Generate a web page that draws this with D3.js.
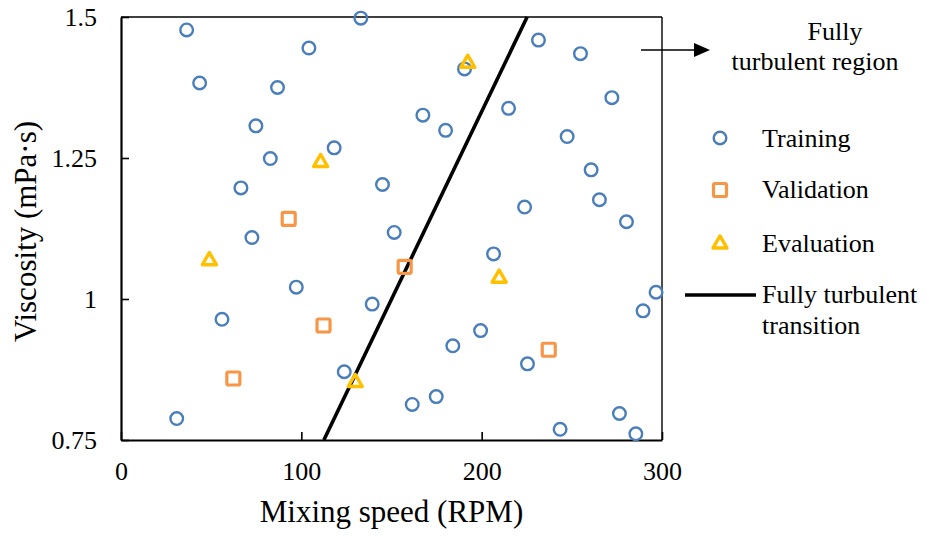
<!DOCTYPE html>
<html>
<head>
<meta charset="utf-8">
<script src="https://cdn.jsdelivr.net/npm/d3@7"></script>
<style>
  html, body { margin: 0; padding: 0; background: #fff; }
  svg { display: block; }
  svg text { font-family: "Liberation Serif", "Times New Roman", Times, serif; fill: #000; }
</style>
</head>
<body>
<div id="chart"></div>
<script>
// Training set: [mixing speed (RPM), viscosity (mPa·s)]
const trainingSpeed = [36.4, 133, 104.2, 43.6, 86.8, 74.8, 118.2, 82.8, 66.5, 145,
  72.6, 151.5, 231.5, 254.8, 190.5, 272.2, 167.4, 214.9, 180, 247.4,
  260.7, 265.3, 280.3, 223.8, 97.2, 56, 139.3, 123.8, 30.9, 206.6,
  296.7, 289.5, 199.4, 184, 225.4, 174.8, 161.5, 243.5, 276.4, 285.5];
const trainingViscosity = [1.477, 1.498, 1.445, 1.383, 1.375, 1.307, 1.268, 1.249, 1.197, 1.203,
  1.109, 1.118, 1.459, 1.435, 1.408, 1.357, 1.326, 1.338, 1.299, 1.288,
  1.229, 1.176, 1.137, 1.163, 1.021, 0.964, 0.991, 0.871, 0.788, 1.080,
  1.012, 0.979, 0.944, 0.917, 0.885, 0.827, 0.813, 0.769, 0.797, 0.761];

// Validation set
const validationSpeed = [93, 112.3, 62.3, 157.3, 237.2];
const validationViscosity = [1.142, 0.953, 0.859, 1.057, 0.910];

// Evaluation set
const evaluationSpeed = [110.7, 192.3, 49, 129.9, 209.7];
const evaluationViscosity = [1.242, 1.418, 1.068, 0.852, 1.037];

// Fully turbulent transition line (two end points)
const transitionSpeed = [112.5, 225.2];
const transitionViscosity = [0.75, 1.5];

// Axis ticks
const xTicks = [0, 100, 200, 300];
const yTicks = [0.75, 1, 1.25, 1.5];
const yTickLabels = ["0.75", "1", "1.25", "1.5"];

const W = 927, H = 536;
const margin = { left: 121, top: 17, right: 265, bottom: 96 };
const iw = W - margin.left - margin.right;
const ih = H - margin.top - margin.bottom;
const serif = "'Liberation Serif', 'Times New Roman', Times, serif";

const svg = d3.select("#chart").append("svg").attr("width", W).attr("height", H)
  .attr("font-family", serif);
const g = svg.append("g").attr("transform", `translate(${margin.left},${margin.top})`);

const x = d3.scaleLinear().domain([0, 300]).range([0, iw]);
const y = d3.scaleLinear().domain([0.75, 1.5]).range([ih, 0]);

// Frame: top and right thin lines
g.append("line").attr("x1", 0).attr("x2", iw).attr("y1", 0).attr("y2", 0)
  .attr("stroke", "#000").attr("stroke-width", 1.4);
g.append("line").attr("x1", iw).attr("x2", iw).attr("y1", 0).attr("y2", ih)
  .attr("stroke", "#000").attr("stroke-width", 1.4);

// Axes with inward ticks
const xAxis = g.append("g").attr("transform", `translate(0,${ih})`)
  .call(d3.axisBottom(x).tickValues(xTicks).tickSizeInner(-8).tickSizeOuter(0)
    .tickFormat(d3.format("d")));
const yAxis = g.append("g")
  .call(d3.axisLeft(y).tickValues(yTicks).tickSizeInner(-8).tickSizeOuter(0)
    .tickFormat((d, i) => yTickLabels[i]));

[xAxis, yAxis].forEach(a => {
  a.attr("font-family", serif).attr("font-size", 26);
  a.select(".domain").attr("stroke", "#000").attr("stroke-width", 2.2);
  a.selectAll(".tick line").attr("stroke", "#000").attr("stroke-width", 1.6);
  a.selectAll(".tick text").attr("fill", "#000")
    .style("font-family", serif).style("font-size", "26px");
});
xAxis.selectAll(".tick text").attr("y", 40).attr("dy", 0);
yAxis.selectAll(".tick text").attr("x", -24).attr("dy", "0.34em");

// Axis titles
svg.append("text")
  .attr("x", margin.left + iw / 2).attr("y", 522)
  .attr("text-anchor", "middle").style("font-size", "31px")
  .text("Mixing speed (RPM)");
svg.append("text")
  .attr("transform", `translate(36,${margin.top + ih / 2 + 3}) rotate(-90)`)
  .attr("text-anchor", "middle").style("font-size", "31px")
  .text("Viscosity (mPa·s)");

// Transition line
const lineGen = d3.line().x(d => x(d[0])).y(d => y(d[1]));
g.append("path")
  .datum(transitionSpeed.map((s, i) => [s, transitionViscosity[i]]))
  .attr("d", lineGen).attr("fill", "none").attr("stroke", "#000").attr("stroke-width", 3.6);

const blue = "#4a7ebb", orange = "#f79646", gold = "#ffc000";

// Training markers
g.selectAll(".train").data(trainingSpeed.map((s, i) => [s, trainingViscosity[i]]))
  .join("circle").attr("class", "train")
  .attr("cx", d => x(d[0])).attr("cy", d => y(d[1])).attr("r", 6.3)
  .attr("fill", "none").attr("stroke", blue).attr("stroke-width", 2.4);

// Validation markers
const sq = 13;
g.selectAll(".val").data(validationSpeed.map((s, i) => [s, validationViscosity[i]]))
  .join("rect").attr("class", "val")
  .attr("x", d => x(d[0]) - sq / 2).attr("y", d => y(d[1]) - sq / 2)
  .attr("width", sq).attr("height", sq).attr("rx", 1.5)
  .attr("fill", "none").attr("stroke", orange).attr("stroke-width", 3.2);

// Evaluation markers
const tri = d3.symbol().type(d3.symbolTriangle).size(85);
g.selectAll(".eval").data(evaluationSpeed.map((s, i) => [s, evaluationViscosity[i]]))
  .join("path").attr("class", "eval")
  .attr("transform", d => `translate(${x(d[0])},${y(d[1])})`)
  .attr("d", tri).attr("fill", "none").attr("stroke", gold)
  .attr("stroke-width", 3.4).attr("stroke-linejoin", "round");

// Legend
const legend = svg.append("g").style("font-size", "26px");
const lx = 720, tx = 762;
legend.append("circle").attr("cx", lx).attr("cy", 138).attr("r", 6.3)
  .attr("fill", "none").attr("stroke", blue).attr("stroke-width", 2.4);
legend.append("text").attr("x", tx).attr("y", 147).text("Training");
legend.append("rect").attr("x", lx - sq / 2).attr("y", 190 - sq / 2).attr("width", sq).attr("height", sq)
  .attr("rx", 1.5).attr("fill", "none").attr("stroke", orange).attr("stroke-width", 3.2);
legend.append("text").attr("x", tx).attr("y", 198).text("Validation");
legend.append("path").attr("transform", `translate(${lx},244)`).attr("d", tri)
  .attr("fill", "none").attr("stroke", gold).attr("stroke-width", 3.4).attr("stroke-linejoin", "round");
legend.append("text").attr("x", tx).attr("y", 252).text("Evaluation");
legend.append("line").attr("x1", 685).attr("x2", 756).attr("y1", 295).attr("y2", 295)
  .attr("stroke", "#000").attr("stroke-width", 3.6);
legend.append("text").attr("x", tx).attr("y", 303).text("Fully turbulent");
legend.append("text").attr("x", tx).attr("y", 334).text("transition");

// Region annotation with arrow
svg.append("line").attr("x1", 641).attr("x2", 696).attr("y1", 50).attr("y2", 50)
  .attr("stroke", "#000").attr("stroke-width", 1.6);
svg.append("path").attr("d", "M694,43 L710,50 L694,57 Z").attr("fill", "#000");
svg.append("text").attr("x", 835).attr("y", 40).attr("text-anchor", "middle")
  .style("font-size", "26px").text("Fully");
svg.append("text").attr("x", 815).attr("y", 70).attr("text-anchor", "middle")
  .style("font-size", "26px").text("turbulent region");
</script>
</body>
</html>
